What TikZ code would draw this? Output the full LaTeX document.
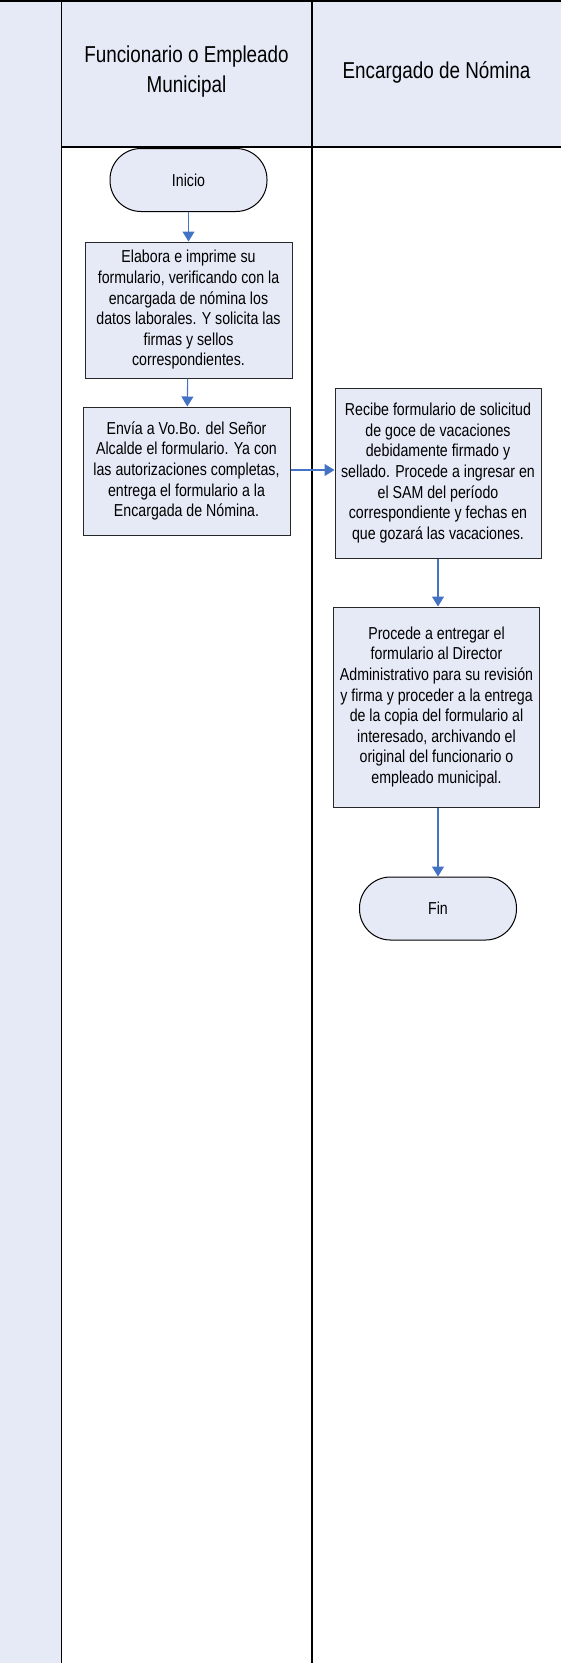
\documentclass[tikz,border=0pt]{standalone}
\usepackage{fontspec}
\setmainfont{Liberation Sans}[FakeStretch=0.82]
\usetikzlibrary{arrows.meta,calc}
\definecolor{lanefill}{RGB}{230,234,246}
\definecolor{arrowblue}{RGB}{68,114,196}
\definecolor{boxline}{RGB}{40,40,40}
\tikzset{
  procbox/.style={draw=boxline, line width=1pt, fill=lanefill, minimum width=207pt, align=center, inner sep=0pt,
    font=\fontsize{17.3}{20.6}\selectfont},
  termbox/.style={draw=black, line width=1pt, fill=lanefill, minimum width=157pt, minimum height=63pt,
    rounded corners=31pt, align=center, font=\fontsize{17.3}{20.6}\selectfont},
  flowarrow/.style={draw=arrowblue, line width=1.1pt, -{Triangle[width=12pt,length=10pt]}},
  headtext/.style={align=center, font=\fontsize{23}{30}\selectfont},
  laneline/.style={draw=black, line width=1.4pt}
}
\begin{document}
\begin{tikzpicture}[x=1pt,y=-1pt]
\useasboundingbox (0,0) rectangle (561,1663);
% backgrounds
\fill[lanefill] (0,0) rectangle (61.5,1663);
\fill[lanefill] (61.5,0) rectangle (561,147);
% lines
\draw[laneline] (61.5,0) -- (61.5,1663);
\draw[laneline] (312,0) -- (312,1663);
\draw[laneline] (61.5,147) -- (561,147);
\draw[draw=black, line width=2.4pt] (0,1.2) -- (561,1.2);
% headers
\node[headtext] (h1) at (186.5,72) {Funcionario o Empleado\\Municipal};
\node[headtext] (h2) at (436.5,72) {Encargado de Nómina};
% nodes
\node[termbox] (inicio) at (188.5,180) {Inicio};
\node[procbox, minimum height=136pt] (elabora) at (188.5,310) {Elabora e imprime su\\formulario, verificando con la\\encargada de nómina los\\datos laborales. Y solicita las\\firmas y sellos\\correspondientes.};
\node[procbox, minimum height=128pt] (envia) at (186.5,471) {Envía a Vo.Bo. del Señor\\Alcalde el formulario. Ya con\\las autorizaciones completas,\\entrega el formulario a la\\Encargada de Nómina.};
\node[procbox, minimum width=206pt, minimum height=170pt] (recibe) at (438,473) {Recibe formulario de solicitud\\de goce de vacaciones\\debidamente firmado y\\sellado. Procede a ingresar en\\el SAM del período\\correspondiente y fechas en\\que gozará las vacaciones.};
\node[procbox, minimum width=206pt, minimum height=200pt] (procede) at (436.5,707) {Procede a entregar el\\formulario al Director\\Administrativo para su revisión\\y firma y proceder a la entrega\\de la copia del formulario al\\interesado, archivando el\\original del funcionario o\\empleado municipal.};
\node[termbox] (fin) at (438,908.5) {Fin};
% connectors
\coordinate (entry) at ($(recibe.west)+(0,-3)$);
\draw[flowarrow] (inicio) -- (elabora);
\draw[flowarrow] (elabora) -- (envia);
\draw[flowarrow] (envia.east |- entry) -- (entry);
\draw[flowarrow] (recibe.south) -- (recibe.south |- procede.north);
\draw[flowarrow] (procede.south -| fin.north) -- (fin.north);
\end{tikzpicture}
\end{document}
